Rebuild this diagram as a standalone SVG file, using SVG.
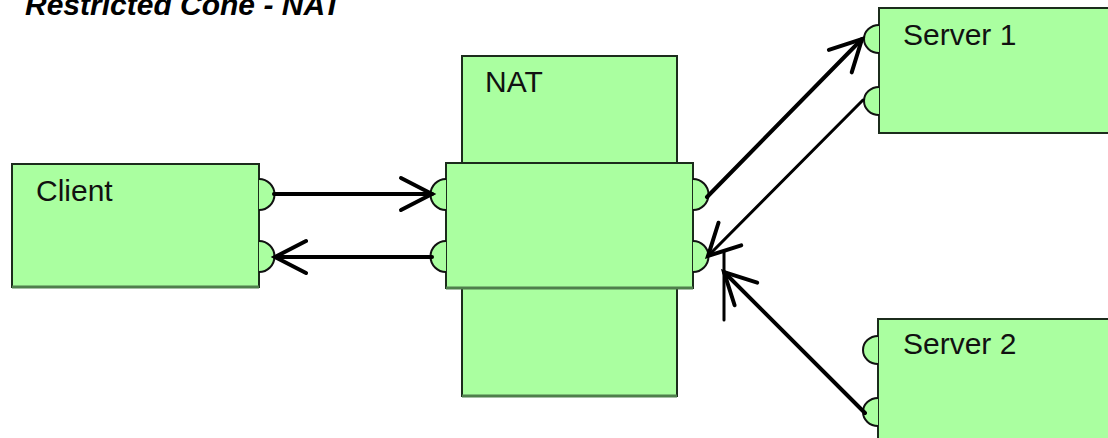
<svg xmlns="http://www.w3.org/2000/svg" width="1108" height="438" viewBox="0 0 1108 438">
<style>
.box{fill:#aaffa0;stroke:#1c2c1c;stroke-width:2}
.shadow{stroke:#4f7f4c;stroke-width:3;fill:none}
.port{fill:#aaffa0;stroke:#111;stroke-width:2}
.pedge{stroke:#4f7f4c;stroke-width:1.5;stroke-dasharray:3 2;fill:none}
.lbl{font-family:"Liberation Sans",Arial,sans-serif;font-size:30px;fill:#111}
.title{font-family:"Liberation Sans",Arial,sans-serif;font-size:30px;font-weight:bold;font-style:italic;fill:#000}
.wire{stroke:#000;stroke-width:4;fill:none;stroke-linecap:round}
.thin{stroke-width:3}
</style>
<defs>
<marker id="vhead" markerUnits="userSpaceOnUse" viewBox="-40 -20 44 40" refX="0" refY="0" markerWidth="44" markerHeight="40" orient="auto" overflow="visible">
<path d="M-31,-16 L0,0 L-31,16" fill="none" stroke="#000" stroke-width="4" stroke-linecap="round" stroke-linejoin="miter"/>
</marker>
</defs>
<rect width="1108" height="438" fill="#fff"/>
<text class="title" x="25" y="15">Restricted Cone - NAT</text>

<g id="client">
<rect class="box" x="12" y="164" width="247" height="123"/>
<line class="shadow" x1="12" y1="287" x2="259" y2="287"/>
<path class="port" d="M259,179 A15.5,15.5 0 0 1 259,210"/>
<path class="port" d="M259,241 A15.5,15.5 0 0 1 259,272"/>
<text class="lbl" x="36" y="201">Client</text>
</g>

<g id="nat">
<rect class="box" x="462" y="56" width="215" height="340"/>
<line class="shadow" x1="462" y1="396" x2="677" y2="396"/>
<rect class="box" x="446" y="163" width="247" height="125"/>
<line class="shadow" x1="446" y1="288" x2="693" y2="288"/>
<path class="port" d="M446,179 A15.5,15.5 0 0 0 446,210"/>
<path class="port" d="M446,241 A15.5,15.5 0 0 0 446,272"/>
<path class="port" d="M693,179 A15.5,15.5 0 0 1 693,210"/>
<path class="port" d="M693,241 A15.5,15.5 0 0 1 693,272"/>
<text class="lbl" x="485" y="92">NAT</text>
</g>

<g id="server1">
<rect class="box" x="879" y="8" width="260" height="125"/>
<path class="port" d="M879,25 A15,14 0 0 0 879,53"/>
<path class="port" d="M879,87 A15,14 0 0 0 879,115"/>
<text class="lbl" x="903" y="45">Server 1</text>
</g>

<g id="server2">
<rect class="box" x="878" y="319" width="260" height="150"/>
<path class="port" d="M878,336 A15,14 0 0 0 878,364"/>
<path class="port" d="M878,398 A15,14 0 0 0 878,426"/>
<text class="lbl" x="903" y="354">Server 2</text>
</g>

<g id="connectors">
<line class="wire" x1="274" y1="194" x2="432" y2="194" marker-end="url(#vhead)"/>
<line class="wire" x1="432" y1="257" x2="275" y2="257" marker-end="url(#vhead)"/>
<line class="wire" x1="707" y1="197" x2="862" y2="39" marker-end="url(#vhead)"/>
<line class="wire thin" x1="863" y1="100" x2="708" y2="256" marker-end="url(#vhead)"/>
<line class="wire" x1="865" y1="413" x2="724" y2="272" marker-end="url(#vhead)"/>
<line class="wire thin" x1="724" y1="252" x2="724" y2="320"/>
</g>
</svg>
